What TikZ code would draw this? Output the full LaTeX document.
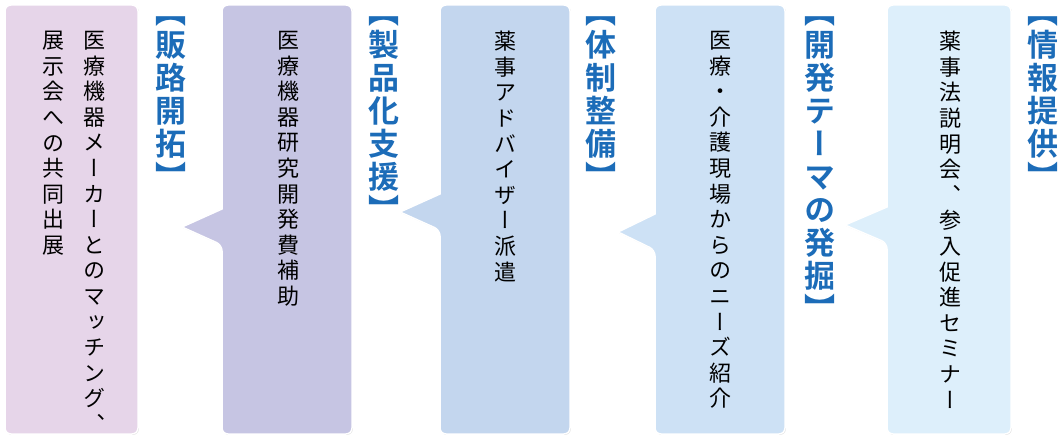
\documentclass[tikz,border=0pt]{standalone}
\usepackage{fontspec}
\usepackage{tikz}
\usetikzlibrary{shadows}
\newfontfamily\jpfont{Noto Sans CJK JP}[RawFeature=+vert]
\newfontfamily\jpbold{Noto Sans CJK JP Bold}[RawFeature=+vert]
\definecolor{labelblue}{HTML}{1C6CB8}
\definecolor{boxa}{HTML}{DDEFFB}
\definecolor{boxb}{HTML}{CDE1F5}
\definecolor{boxc}{HTML}{C3D6EE}
\definecolor{boxd}{HTML}{C6C5E3}
\definecolor{boxe}{HTML}{E6D5E9}
% vertical stacking of characters
\def\vloop#1{\ifx\relax#1\else\hbox to 1em{\hss#1\hss}\expandafter\vloop\fi}
\newcommand{\vtext}[2]{\vtop{\baselineskip=#1\lineskiplimit=-20pt\vloop#2\relax}}

\begin{document}
\begin{tikzpicture}[x=1pt,y=-1pt]

\tikzset{
    callbox/.style={draw=white,line width=1.5pt,rounded corners=6pt,drop shadow={shadow xshift=0.8pt,shadow yshift=-0.8pt,opacity=0.35}},
    item/.style={anchor=north,inner sep=0pt,font=\jpfont\fontsize{22}{22}\selectfont},
    heading/.style={anchor=north,inner sep=0pt,text=labelblue,font=\jpbold\fontsize{31}{31}\selectfont}
}
% variables
\def\ytop{5}
\def\ybot{434}

\useasboundingbox (0,0) rectangle (1061,441);

% ----------- boxes with pointers ----------- %
\foreach \xl/\xr/\tx/\ty/\col in {887/1011/845/225/boxa, 655/785/618/232/boxb, 440/570/400/212/boxc, 222/352/182/227/boxd}{
  \path[callbox,fill=\col] (\xl,\ty-18) -- (\xl,\ytop) -- (\xr,\ytop) -- (\xr,\ybot) -- (\xl,\ybot)
    -- (\xl,\ty+18) [sharp corners] -- (\tx,\ty) -- cycle;
}
\path[callbox,fill=boxe] (5,\ytop) rectangle (138,\ybot);

% ----------- box texts ----------- %
\node[item] (t1) at (950,31) {\vtext{25.6pt}{薬事法説明会、参入促進セミナー}};
\node[item] (t2) at (720,31) {\vtext{25.6pt}{医療・介護現場からのニーズ紹介}};
\node[item] (t3) at (505,31) {\vtext{25.6pt}{薬事アドバイザー派遣}};
\node[item] (t4) at (288,31) {\vtext{25.6pt}{医療機器研究開発費補助}};
\node[item] (t5a) at (94,31) {\vtext{25.6pt}{医療機器メーカーとのマッチング、}};
\node[item] (t5b) at (53,31) {\vtext{25.6pt}{展示会への共同出展}};

% ----------- headings ----------- %
\node[heading] (l1) at (1043,16) {\vtext{33pt}{【情報提供】}};
\node[heading] (l2) at (820,16) {\vtext{33pt}{【開発テーマの発掘】}};
\node[heading] (l3) at (601,16) {\vtext{33pt}{【体制整備】}};
\node[heading] (l4) at (384,16) {\vtext{33pt}{【製品化支援】}};
\node[heading] (l5) at (171,16) {\vtext{33pt}{【販路開拓】}};

\end{tikzpicture}
\end{document}
